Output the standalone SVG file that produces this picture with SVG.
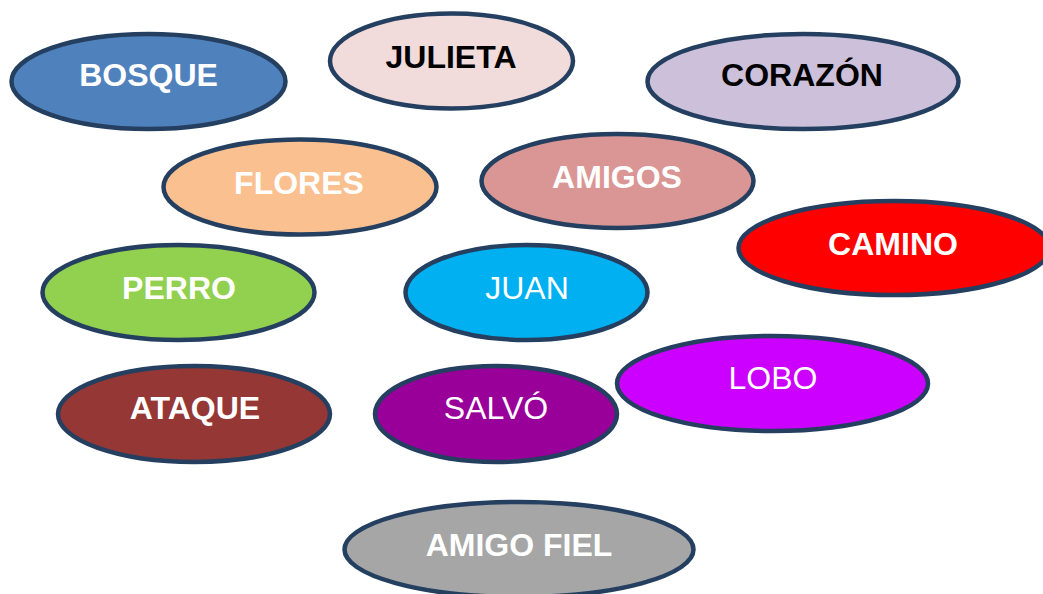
<svg xmlns="http://www.w3.org/2000/svg" width="1043" height="594" viewBox="0 0 1043 594">
<style>
.n{stroke:#243F60;stroke-width:4.5}
.t{font-family:"Liberation Sans",Arial,sans-serif;font-size:32px;text-anchor:middle}
.b{font-weight:bold}
.w{fill:#FFFFFF}
.k{fill:#000000}
</style>
<rect width="1043" height="594" fill="#FFFFFF"/>
<g id="connectors"></g>
<g id="bosque"><ellipse class="n" cx="148.5" cy="81.5" rx="137" ry="47.5" fill="#4F81BD"/><text class="t b w" x="148.5" y="86">BOSQUE</text></g>
<g id="julieta"><ellipse class="n" cx="451.5" cy="61" rx="121.5" ry="47.5" fill="#F2DCDB"/><text class="t b k" x="451" y="68">JULIETA</text></g>
<g id="corazon"><ellipse class="n" cx="803" cy="81.5" rx="155.5" ry="47.5" fill="#CCC0DA"/><text class="t b k" x="802" y="86">CORAZÓN</text></g>
<g id="flores"><ellipse class="n" cx="300" cy="187" rx="136.5" ry="47.5" fill="#FAC090"/><text class="t b w" x="299" y="194">FLORES</text></g>
<g id="amigos"><ellipse class="n" cx="617.5" cy="181" rx="136" ry="47" fill="#D99694"/><text class="t b w" x="617" y="188">AMIGOS</text></g>
<g id="camino"><ellipse class="n" cx="894" cy="248" rx="155.5" ry="47" fill="#FF0000"/><text class="t b w" x="893" y="255">CAMINO</text></g>
<g id="perro"><ellipse class="n" cx="178.5" cy="292.5" rx="136" ry="47.5" fill="#92D050"/><text class="t b w" x="179" y="299">PERRO</text></g>
<g id="juan"><ellipse class="n" cx="526.5" cy="292.5" rx="121" ry="47.5" fill="#00B0F0"/><text class="t w" x="527" y="299">JUAN</text></g>
<g id="lobo"><ellipse class="n" cx="772.5" cy="383.5" rx="155.5" ry="47.5" fill="#CC00FF"/><text class="t w" x="773" y="389">LOBO</text></g>
<g id="ataque"><ellipse class="n" cx="194" cy="414" rx="136" ry="48" fill="#953735"/><text class="t b w" x="195" y="419">ATAQUE</text></g>
<g id="salvo"><ellipse class="n" cx="496" cy="414" rx="121" ry="48" fill="#990099"/><text class="t w" x="496" y="419">SALVÓ</text></g>
<g id="amigo-fiel"><ellipse class="n" cx="519" cy="549.5" rx="174.5" ry="47.5" fill="#A6A6A6"/><text class="t b w" x="519" y="556">AMIGO FIEL</text></g>
</svg>
